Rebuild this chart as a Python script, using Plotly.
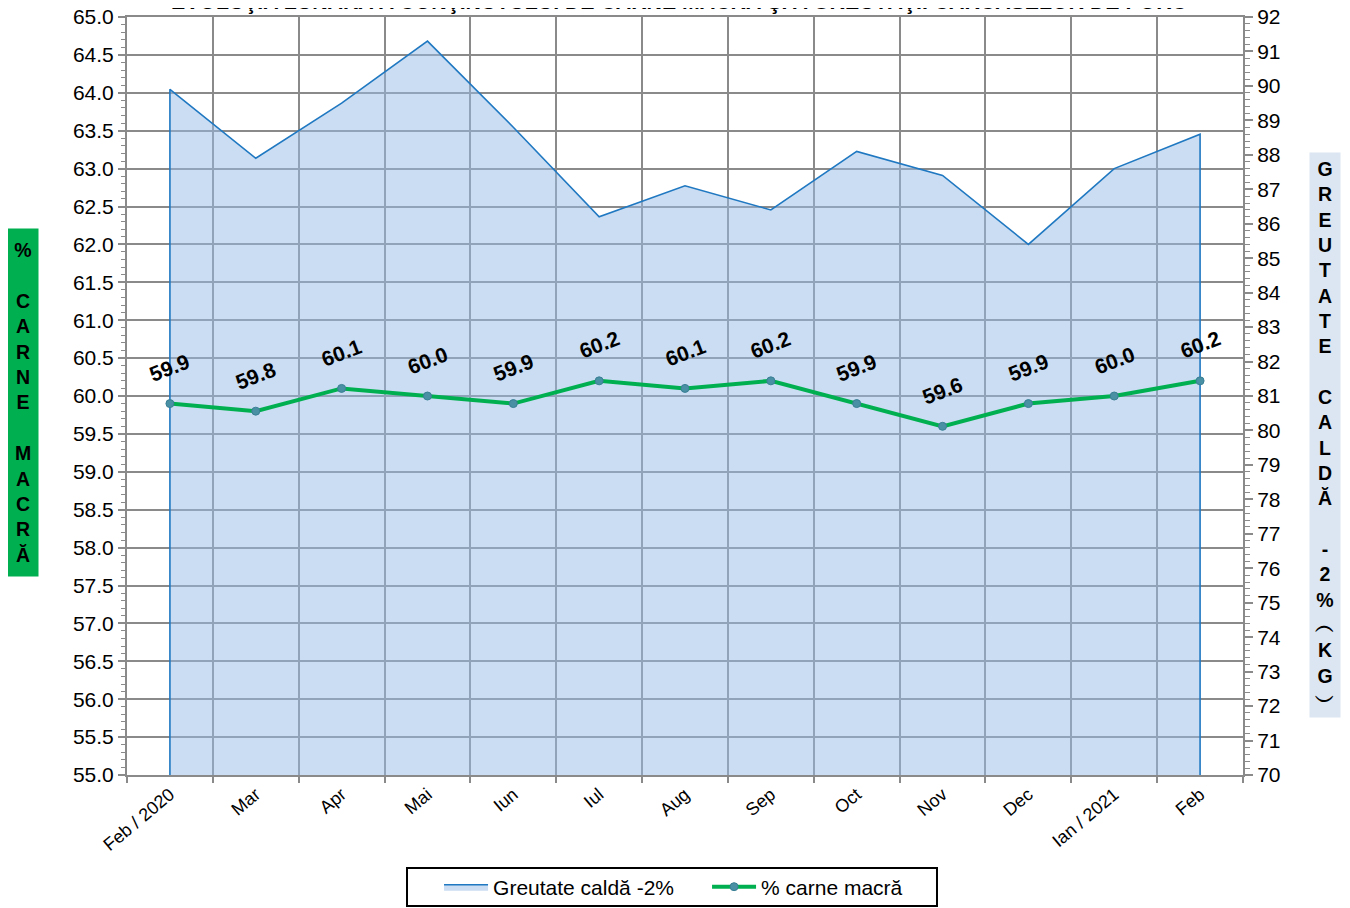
import plotly.graph_objects as go

# ---- data ----
months = ["Feb / 2020", "Mar", "Apr", "Mai", "Iun", "Iul", "Aug", "Sep",
          "Oct", "Nov", "Dec", "Ian / 2021", "Feb"]
greutate_calda = [89.9, 87.9, 89.5, 91.3, 88.8, 86.2, 87.1, 86.4, 88.1, 87.4, 85.4, 87.6, 88.6]
carne_macra = [59.9, 59.8, 60.1, 60.0, 59.9, 60.2, 60.1, 60.2, 59.9, 59.6, 59.9, 60.0, 60.2]
left_range = [55, 65]
right_range = [70, 92]

title_text = "EVOLUŢIA LUNARĂ A CONŢINUTULUI DE CARNE MACRĂ ŞI A GREUTĂŢII CARCASELOR DE PORC"
left_title = ["%", "", "C", "A", "R", "N", "E", "", "M", "A", "C", "R", "Ă"]
right_title = ["G", "R", "E", "U", "T", "A", "T", "E", "", "C", "A", "L", "D", "Ă", "",
               "-", "2", "%", "︵", "K", "G", "︶"]

FONT = "Liberation Sans, Arial, sans-serif"
GRID = "#8a8a8a"

fig = go.Figure()

# area (closed down to the axis minimum)
fig.add_trace(go.Scatter(
    x=[months[0]] + months + [months[-1]],
    y=[right_range[0]] + greutate_calda + [right_range[0]],
    mode="lines", fill="toself",
    fillcolor="rgba(150,187,229,0.5)",
    line=dict(color="#1f78c1", width=1.6),
    name="Greutate caldă -2%", yaxis="y", hoverinfo="skip",
))

fig.add_trace(go.Scatter(
    x=months, y=carne_macra, mode="lines+markers",
    line=dict(color="#00b050", width=4),
    marker=dict(color="#4a90a4", size=8, line=dict(color="#3a7f95", width=1)),
    name="% carne macră", yaxis="y2",
))

annotations = []
for m, v in zip(months, carne_macra):
    annotations.append(dict(
        x=m, y=v, xref="x", yref="y2", text=f"<b>{v:.1f}</b>",
        showarrow=False, textangle=-21, yshift=36,
        font=dict(family=FONT, size=21, color="black"),
    ))

# chart title (sits mostly above the visible page, as in the reference)
annotations.append(dict(
    x=0.4942, y=1.0013, xref="paper", yref="paper", xanchor="center", yanchor="bottom",
    text="<b>" + title_text + "</b>", showarrow=False,
    font=dict(family=FONT, size=21.3, color="black"),
))

annotations.append(dict(
    x=-0.0932, y=0.4908, xref="paper", yref="paper",
    text="<b>" + "<br>".join(left_title) + "</b>",
    showarrow=False, width=30, height=347, bgcolor="#00b050",
    font=dict(family=FONT, size=19.5, color="black"), borderpad=0,
    xanchor="center", yanchor="middle",
))
annotations.append(dict(
    x=1.0735, y=0.4485, xref="paper", yref="paper",
    text="<b>" + "<br>".join(right_title) + "</b>",
    showarrow=False, width=30, height=564, bgcolor="#dce6f2",
    font=dict(family=FONT, size=19.5, color="black"), borderpad=0,
    xanchor="center", yanchor="middle",
))

shapes = [dict(type="rect", xref="paper", yref="paper",
               x0=0.2509, x1=0.7258, y0=-0.1728, y1=-0.1227,
               line=dict(color="black", width=2), fillcolor="rgba(0,0,0,0)")]

fig.update_layout(
    width=1342, height=900, autosize=False,
    margin=dict(l=119, r=107, t=9, b=133),
    paper_bgcolor="white", plot_bgcolor="white",
    font=dict(family=FONT, color="black"),
    showlegend=True,
    legend=dict(orientation="h", xref="container", yref="container",
                x=0.3212, xanchor="left", y=0.0233, yanchor="middle",
                borderwidth=0, bgcolor="rgba(0,0,0,0)", entrywidth=209, itemwidth=44,
                font=dict(family=FONT, size=21, color="black")),
    annotations=annotations,
    shapes=shapes,
    xaxis=dict(type="category", range=[-0.5, len(months) - 0.5], tickson="boundaries",
               showgrid=True, gridcolor=GRID, gridwidth=1.5, automargin=False,
               ticks="outside", ticklen=6, tickcolor=GRID, tickwidth=1.5,
               showline=True, linecolor=GRID, linewidth=2, mirror=True,
               tickangle=-40, tickfont=dict(family=FONT, size=18, color="black")),
    yaxis=dict(side="right", range=right_range, dtick=1, showgrid=False, zeroline=False,
               automargin=False, ticklabeloverflow="allow",
               ticks="outside", ticklen=8, tickcolor=GRID, tickwidth=1.5,
               minor=dict(dtick=0.2, ticks="outside", ticklen=5, tickcolor=GRID, tickwidth=1),
               showline=True, linecolor=GRID, linewidth=2,
               tickfont=dict(family=FONT, size=21, color="black")),
    yaxis2=dict(overlaying="y", side="left", range=left_range, dtick=0.5, tickformat=".1f",
                showgrid=True, gridcolor=GRID, gridwidth=1.5, zeroline=False,
                automargin=False, ticklabeloverflow="allow",
                ticks="outside", ticklen=7, tickcolor=GRID, tickwidth=1.5,
                minor=dict(dtick=0.1, ticks="outside", ticklen=4, tickcolor=GRID, tickwidth=1),
                showline=True, linecolor=GRID, linewidth=2,
                tickfont=dict(family=FONT, size=21, color="black")),
)

fig.write_html("out.html")
